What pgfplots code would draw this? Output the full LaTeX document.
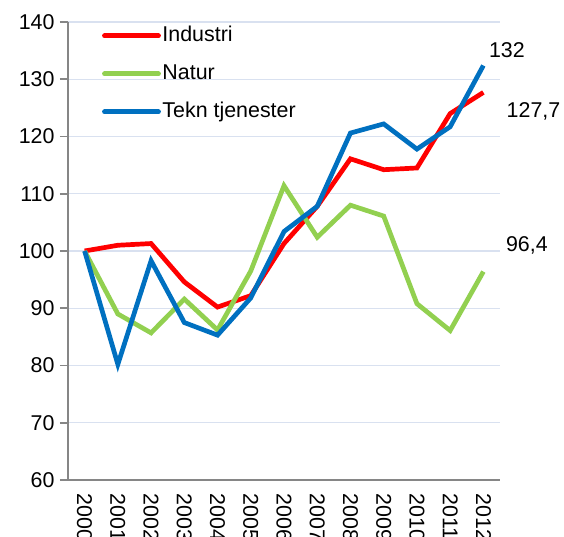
\documentclass[border=0pt]{standalone}
\usepackage{pgfplots}
\pgfplotsset{compat=1.18}
\usepackage{fontspec}
\setmainfont{Liberation Sans}
\usetikzlibrary{calc}
\definecolor{indred}{RGB}{255,0,0}
\definecolor{natgreen}{RGB}{146,208,80}
\definecolor{tekblue}{RGB}{0,112,192}
\definecolor{axgray}{RGB}{134,134,134}
\definecolor{gridblue}{RGB}{217,225,240}

\begin{document}
\begin{tikzpicture}
\fontsize{10.7}{12.5}\selectfont
\begin{axis}[
    name=ax,
    scale only axis,
    width=216pt, height=229pt,
    xmin=-0.5, xmax=12.5,
    ymin=60, ymax=140,
    ytick={60,70,...,140},
    xtick={0,...,12},
    xticklabels={2000,2001,2002,2003,2004,2005,2006,2007,2008,2009,2010,2011,2012},
    /pgf/number format/assume math mode=true,
    axis x line*=bottom,
    axis y line*=left,
    axis line style={axgray, line width=0.8pt},
    x axis line style={-},
    y axis line style={-},
    tick align=outside,
    major tick length=4pt,
    ytick style={axgray, line width=0.8pt},
    xtick style={draw=none},
    ymajorgrids,
    grid style={gridblue, line width=0.7pt},
    tick label style={font=\fontsize{10.7}{12.5}\selectfont},
    yticklabel style={xshift=1pt},
    xticklabel style={rotate=-90, anchor=west, xshift=-1pt},
    clip=false,
    legend cell align=left,
    legend style={draw=none, fill=none, at={(rel axis cs:0.078,0.997)}, anchor=north west,
        font=\fontsize{10.7}{12.5}\selectfont, row sep=6.9pt, inner sep=0pt,
        nodes={inner sep=0.8pt, text height=8pt, text depth=2.5pt}},
    legend image code/.code={\draw[#1, line width=2.4pt, line cap=round] (0pt,0pt) -- (27pt,0pt);},
]
\addplot[indred, line width=2.35pt] coordinates {
 (0,100) (1,101.0) (2,101.3) (3,94.6) (4,90.2) (5,92.2) (6,101.3) (7,107.8) (8,116.1) (9,114.2) (10,114.5) (11,124.0) (12,127.7)};
\addlegendentry{Industri}
\addplot[natgreen, line width=2.35pt] coordinates {
 (0,100) (1,89.0) (2,85.7) (3,91.6) (4,86.2) (5,96.5) (6,111.4) (7,102.4) (8,108.0) (9,106.1) (10,90.8) (11,86.1) (12,96.4)};
\addlegendentry{Natur}
\addplot[tekblue, line width=2.35pt] coordinates {
 (0,100) (1,80.2) (2,98.3) (3,87.5) (4,85.3) (5,91.8) (6,103.4) (7,107.8) (8,120.6) (9,122.2) (10,117.8) (11,121.7) (12,132.4)};
\addlegendentry{Tekn tjenester}
\node[anchor=west, inner sep=0pt] at (axis cs:12.16,135.1) {132};
\node[anchor=west, inner sep=0pt] at (axis cs:12.69,124.3) {127,7};
\node[anchor=west, inner sep=0pt] at (axis cs:12.67,100.9) {96,4};
\end{axis}
\pgfresetboundingbox
\path[use as bounding box] ($(ax.south west)+(-34pt,-28.5pt)$) rectangle ($(ax.north east)+(32pt,11pt)$);
\end{tikzpicture}
\end{document}
